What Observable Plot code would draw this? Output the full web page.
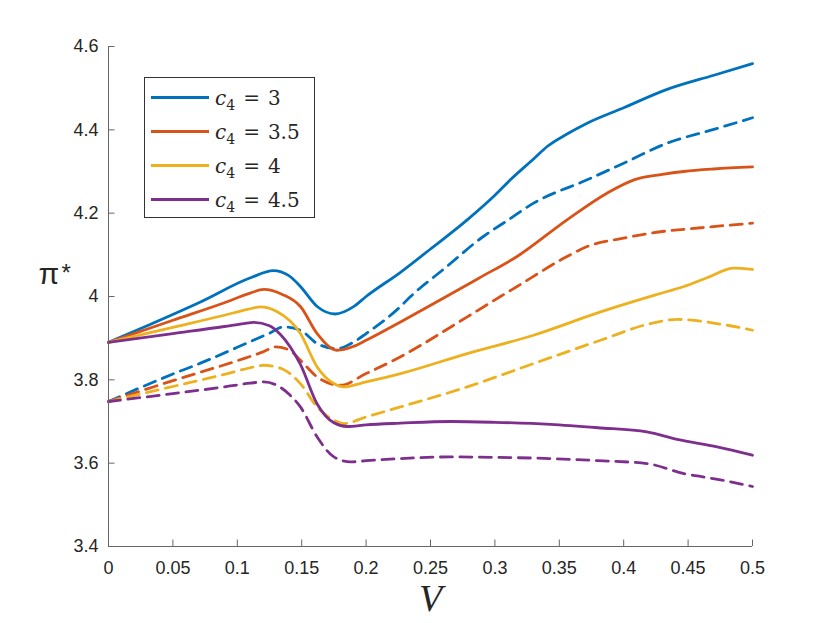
<!DOCTYPE html>
<html>
<head>
<meta charset="utf-8">
<script src="https://cdn.jsdelivr.net/npm/d3@7"></script>
<script src="https://cdn.jsdelivr.net/npm/@observablehq/plot@0.6"></script>
<style>
  body { margin: 0; background: #fff; }
  #wrap { position: relative; width: 830px; height: 623px; }
  #legend { position: absolute; left: 144px; top: 77px; width: 171px; height: 141px; box-sizing: border-box;
            border: 1px solid #333; background: #fff; font-family: "DejaVu Serif", "Liberation Serif", serif;
            font-size: 20px; color: #262626; }
  .row { position: absolute; left: 0; height: 34px; display: flex; align-items: center; white-space: nowrap; }
  .sw { width: 58px; height: 3px; margin-left: 6px; margin-right: 6px; }
  .row sub { font-size: 14px; vertical-align: -5px; line-height: 0; font-style: normal; }
  .eq { margin: 0 8px; }
</style>
</head>
<body>
<div id="wrap"><div id="legend"></div></div>
<script>
// ---- data ----
const c4Labels = ["3", "3.5", "4", "4.5"];
const colors = ["#0072BD", "#D95319", "#EDB120", "#7E2F8E"];
const xTicks = [0, 0.05, 0.1, 0.15, 0.2, 0.25, 0.3, 0.35, 0.4, 0.45, 0.5];
const yTicks = [3.4, 3.6, 3.8, 4, 4.2, 4.4, 4.6];

// c4 = 3
const V_c3_solid = [0, 0.03, 0.0714, 0.1103, 0.128, 0.14, 0.149, 0.162, 0.176, 0.19, 0.2, 0.2267, 0.25, 0.2785, 0.3, 0.312, 0.33, 0.3406, 0.356, 0.3716, 0.4, 0.4337, 0.47, 0.5];
const pi_c3_solid = [3.890, 3.930, 3.987, 4.045, 4.062, 4.050, 4.024, 3.976, 3.958, 3.975, 4.000, 4.058, 4.114, 4.184, 4.243, 4.280, 4.330, 4.360, 4.390, 4.416, 4.453, 4.497, 4.531, 4.559];
const V_c3_dash = [0, 0.05, 0.0714, 0.1, 0.125, 0.136, 0.149, 0.162, 0.1775, 0.19, 0.2, 0.2267, 0.2345, 0.26, 0.291, 0.31, 0.33, 0.3716, 0.4, 0.4337, 0.47, 0.5];
const pi_c3_dash = [3.748, 3.814, 3.840, 3.878, 3.912, 3.927, 3.919, 3.887, 3.875, 3.890, 3.911, 3.976, 4.000, 4.065, 4.144, 4.183, 4.224, 4.280, 4.320, 4.368, 4.401, 4.429];

// c4 = 3.5
const V_c35_solid = [0, 0.05, 0.09, 0.11, 0.1206, 0.135, 0.149, 0.162, 0.1775, 0.19, 0.2, 0.2267, 0.2578, 0.2875, 0.3172, 0.356, 0.387, 0.408, 0.43, 0.4467, 0.47, 0.5];
const pi_c35_solid = [3.890, 3.943, 3.985, 4.008, 4.017, 4.005, 3.976, 3.911, 3.871, 3.880, 3.895, 3.939, 3.992, 4.044, 4.096, 4.184, 4.248, 4.280, 4.293, 4.300, 4.306, 4.311];
const V_c35_dash = [0, 0.05, 0.1, 0.12, 0.1297, 0.14, 0.149, 0.162, 0.18, 0.2, 0.2215, 0.2785, 0.3043, 0.3172, 0.356, 0.3716, 0.4, 0.4208, 0.46, 0.5];
const pi_c35_dash = [3.748, 3.798, 3.846, 3.867, 3.879, 3.872, 3.847, 3.807, 3.787, 3.815, 3.847, 3.951, 4.000, 4.024, 4.096, 4.120, 4.140, 4.152, 4.165, 4.176];

// c4 = 4
const V_c4_solid = [0, 0.05, 0.09, 0.108, 0.118, 0.13, 0.149, 0.162, 0.175, 0.1827, 0.2, 0.2267, 0.2785, 0.33, 0.382, 0.4337, 0.4467, 0.4647, 0.4855, 0.5];
const pi_c4_solid = [3.890, 3.926, 3.955, 3.969, 3.975, 3.965, 3.911, 3.831, 3.791, 3.783, 3.795, 3.815, 3.863, 3.907, 3.963, 4.012, 4.024, 4.045, 4.068, 4.065];
const V_c4_dash = [0, 0.05, 0.09, 0.11, 0.1206, 0.135, 0.149, 0.162, 0.175, 0.1827, 0.2, 0.2267, 0.2785, 0.33, 0.382, 0.4208, 0.4415, 0.4725, 0.5];
const pi_c4_dash = [3.748, 3.784, 3.813, 3.829, 3.835, 3.826, 3.791, 3.735, 3.703, 3.695, 3.711, 3.735, 3.783, 3.839, 3.895, 3.935, 3.945, 3.935, 3.919];

// c4 = 4.5
const V_c45_solid = [0, 0.05, 0.09, 0.105, 0.1128, 0.125, 0.1335, 0.149, 0.162, 0.175, 0.1853, 0.2, 0.2267, 0.2655, 0.3, 0.343, 0.38, 0.418, 0.4415, 0.4725, 0.5];
const pi_c45_solid = [3.890, 3.911, 3.928, 3.935, 3.938, 3.930, 3.909, 3.837, 3.742, 3.697, 3.688, 3.692, 3.696, 3.700, 3.698, 3.693, 3.685, 3.675, 3.657, 3.639, 3.619];
const V_c45_dash = [0, 0.05, 0.09, 0.11, 0.1206, 0.13, 0.14, 0.149, 0.162, 0.175, 0.188, 0.2, 0.2267, 0.2655, 0.3, 0.343, 0.38, 0.418, 0.4467, 0.475, 0.5];
const pi_c45_dash = [3.748, 3.767, 3.783, 3.792, 3.795, 3.788, 3.766, 3.735, 3.663, 3.615, 3.603, 3.606, 3.611, 3.615, 3.614, 3.611, 3.606, 3.599, 3.575, 3.560, 3.544];

// ---- build table ----
const series = [
  {c4: "3", kind: "solid", V: V_c3_solid, pi: pi_c3_solid},
  {c4: "3", kind: "dash", V: V_c3_dash, pi: pi_c3_dash},
  {c4: "3.5", kind: "solid", V: V_c35_solid, pi: pi_c35_solid},
  {c4: "3.5", kind: "dash", V: V_c35_dash, pi: pi_c35_dash},
  {c4: "4", kind: "solid", V: V_c4_solid, pi: pi_c4_solid},
  {c4: "4", kind: "dash", V: V_c4_dash, pi: pi_c4_dash},
  {c4: "4.5", kind: "solid", V: V_c45_solid, pi: pi_c45_solid},
  {c4: "4.5", kind: "dash", V: V_c45_dash, pi: pi_c45_dash}
];
const rows = series.flatMap(s => s.V.map((v, i) => ({c4: s.c4, kind: s.kind, key: s.c4 + s.kind, V: v, pi: s.pi[i]})));
const solidRows = rows.filter(d => d.kind === "solid");
const dashRows = rows.filter(d => d.kind === "dash");

const ink = "#262626";
const chart = Plot.plot({
  width: 830,
  height: 623,
  marginLeft: 108,
  marginRight: 78,
  marginTop: 46,
  marginBottom: 77,
  style: {fontFamily: "'Liberation Sans', Arial, sans-serif", fontSize: "18px", color: ink, background: "#fff", overflow: "visible"},
  x: {domain: [0, 0.5]},
  y: {domain: [3.4, 4.6]},
  color: {domain: c4Labels, range: colors},
  marks: [
    Plot.line(dashRows, {x: "V", y: "pi", z: "key", stroke: "c4", strokeWidth: 2.8, strokeDasharray: "12,7.5", curve: "monotone-x"}),
    Plot.line(solidRows, {x: "V", y: "pi", z: "key", stroke: "c4", strokeWidth: 2.8, curve: "monotone-x"}),
    Plot.ruleX([0], {stroke: "#666", strokeWidth: 1}),
    Plot.ruleY([3.4], {stroke: "#666", strokeWidth: 1}),
    Plot.axisX(xTicks, {anchor: "bottom", tickSize: -6.5, tickPadding: 21.5, stroke: "#666", fill: ink, fontSize: 18, label: null, tickFormat: d => String(d)}),
    Plot.axisY(yTicks, {anchor: "left", tickSize: -6.5, tickPadding: 16.5, stroke: "#666", fill: ink, fontSize: 18, label: null, tickFormat: d => String(d)}),
    Plot.text(["V"], {text: d => d, frameAnchor: "bottom", dy: 64, lineAnchor: "bottom", fontSize: 38, fontStyle: "italic", fontFamily: "'Liberation Serif', serif", fill: ink}),
    Plot.text(["π"], {text: d => d, frameAnchor: "left", dx: -70, dy: -12.75, lineAnchor: "bottom", fontSize: 30, fill: ink}),
    Plot.text(["*"], {text: d => d, frameAnchor: "left", dx: -47, dy: -15.5, lineAnchor: "bottom", fontSize: 24, fill: ink})
  ]
});
document.getElementById("wrap").prepend(chart);

// legend
const legend = document.getElementById("legend");
c4Labels.forEach((c, i) => {
  const row = document.createElement("div");
  row.className = "row";
  row.style.top = (2.7 + 34 * i) + "px";
  const sw = document.createElement("div");
  sw.className = "sw";
  sw.style.background = colors[i];
  row.appendChild(sw);
  const t = document.createElement("span");
  t.innerHTML = `<i>c</i><sub>4</sub><span class="eq">=</span>${c}`;
  row.appendChild(t);
  legend.appendChild(row);
});
</script>
</body>
</html>
